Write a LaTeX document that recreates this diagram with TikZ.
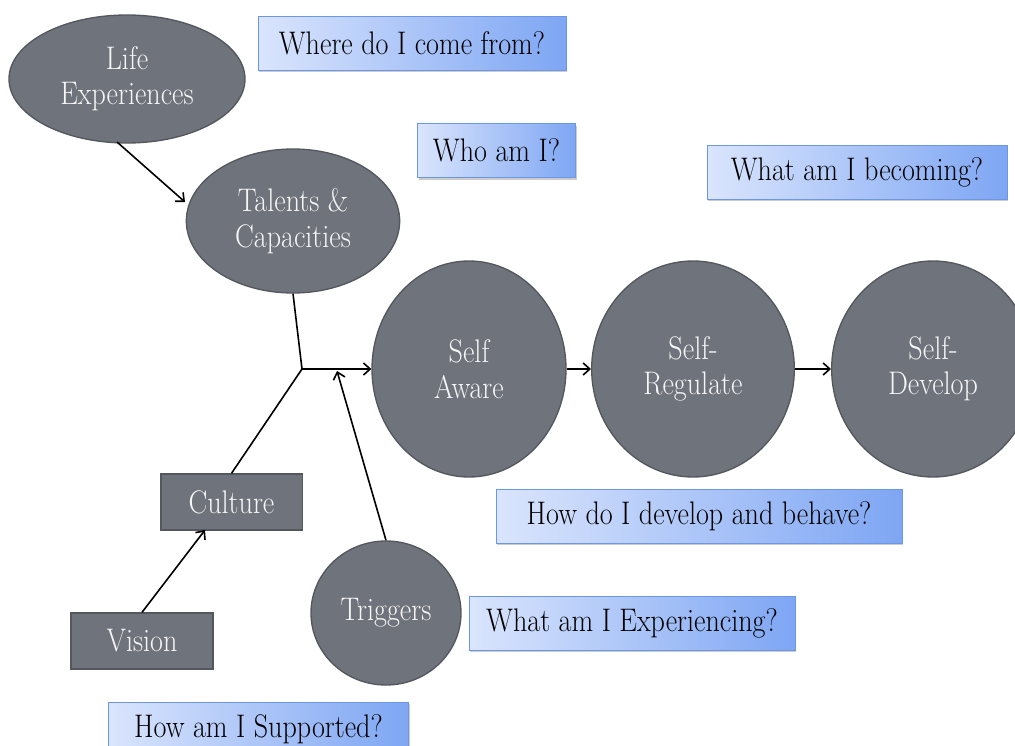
\documentclass[tikz,border=0pt]{standalone}
\usepackage{fontspec}
\setmainfont{Latin Modern Roman}[FakeStretch=0.86]
\usetikzlibrary{shapes.geometric,shadows,arrows.meta}
\definecolor{nodegrey}{RGB}{111,115,123}
\definecolor{edgegrey}{RGB}{84,87,93}
\definecolor{txtwhite}{RGB}{246,246,246}
\definecolor{qleft}{RGB}{218,229,253}
\definecolor{qright}{RGB}{126,166,243}
\definecolor{qedge}{RGB}{108,150,230}
\tikzset{
  greyell/.style={ellipse, fill=nodegrey, draw=edgegrey, line width=1pt, inner sep=0pt,
    text=txtwhite, align=center, font=\fontsize{24.5}{26.5}\selectfont},
  greyrect/.style={rectangle, fill=nodegrey, draw=edgegrey, line width=1pt, inner sep=0pt,
    text=txtwhite, align=center, font=\fontsize{24.5}{26.5}\selectfont,
    drop shadow={opacity=0.35, shadow xshift=0.8pt, shadow yshift=-0.8pt}},
  qbox/.style={rectangle, left color=qleft, right color=qright, draw=qedge, line width=0.6pt,
    inner sep=0pt, minimum height=40.5pt, text=black, font=\fontsize{24.5}{26}\selectfont,
    drop shadow={opacity=0.4, shadow xshift=1pt, shadow yshift=-1.5pt}},
  conn/.style={draw=black, line width=1.2pt},
  arr/.style={conn, -{Straight Barb[length=5pt,width=9pt,line width=1.2pt]}}
}
\begin{document}
\begin{tikzpicture}[x=0.75pt, y=-0.75pt]
\useasboundingbox (0,0) rectangle (1015,746);
\fill[white] (0,0) rectangle (1015,746);
% grey nodes
\node[greyell, minimum width=177pt, minimum height=96pt] (life) at (127,79) {Life\\Experiences};
\node[greyell, minimum width=160pt, minimum height=108pt] (tal) at (293,221) {Talents \&\\Capacities};
\node[greyell, minimum width=145.5pt, minimum height=162pt] (aware) at (469,369) {Self\\Aware};
\node[greyell, minimum width=152pt, minimum height=162pt] (reg) at (693,369) {Self-\\Regulate};
\node[greyell, minimum width=152pt, minimum height=162pt] (dev) at (933,369) {Self-\\Develop};
\node[greyell, minimum width=112.5pt, minimum height=108pt] (trig) at (386,613) {Triggers};
\node[greyrect, minimum width=106pt, minimum height=42pt] (cult) at (231.5,502) {Culture};
\node[greyrect, minimum width=106.5pt, minimum height=42pt] (vis) at (142,641) {Vision};
% question boxes
\node[qbox, minimum width=231pt] (q1) at (412,43) {Where do I come from?};
\node[qbox, minimum width=119pt] (q2) at (496.5,150.5) {Who am I?};
\node[qbox, minimum width=225pt] (q3) at (857,172) {What am I becoming?};
\node[qbox, minimum width=304.5pt] (q4) at (699,516) {How do I develop and behave?};
\node[qbox, minimum width=244.5pt] (q5) at (632,623) {What am I Experiencing?};
\node[qbox, minimum width=225.5pt] (q6) at (258.5,729) {How am I Supported?};
% connectors
\coordinate (j) at (302,369);
\coordinate (jt) at (337,371);
\coordinate (ls) at (117,142);
\coordinate (lt) at (185,202);
\coordinate (ct) at (205,530);
\draw[arr] (ls) -- (lt);
\draw[conn] (tal.south) -- (j);
\draw[conn] (cult.north) -- (j);
\draw[arr] (j) -- (aware.west);
\draw[arr] (trig.north) -- (jt);
\draw[arr] (vis.north) -- (ct);
\draw[arr] (aware.east) -- (reg.west);
\draw[arr] (reg.east) -- (dev.west);
\end{tikzpicture}
\end{document}
